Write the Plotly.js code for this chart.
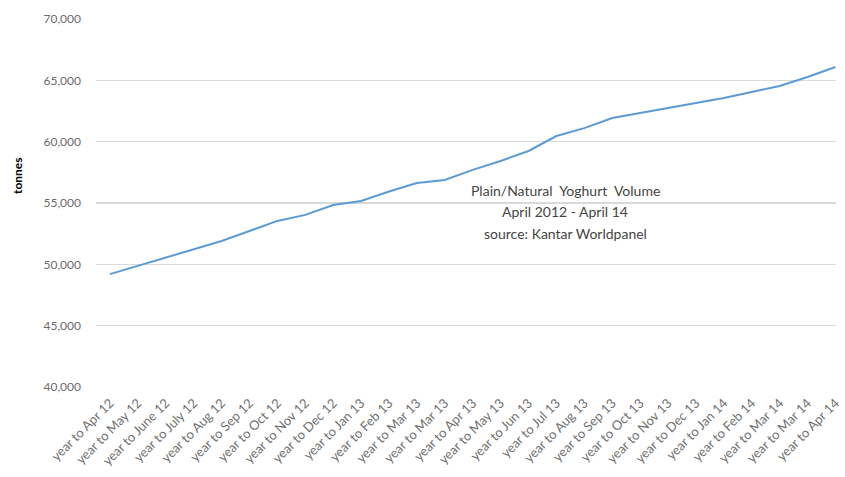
<!DOCTYPE html>
<html>
<head>
<meta charset="utf-8">
<script src="https://cdn.plot.ly/plotly-3.0.1.min.js"></script>
<style>html,body{margin:0;padding:0;background:#fff;}#chart{width:845px;height:477px;}</style>
</head>
<body>
<div id="chart"></div>
<script>
// Category labels (note: the source repeats "Mar 13" and "Mar 14")
const categories = [
  "year to Apr 12","year to May 12","year to June 12","year to July 12","year to Aug 12",
  "year to Sep 12","year to Oct 12","year to Nov 12","year to Dec 12","year to Jan 13",
  "year to Feb 13","year to Mar 13","year to Mar 13","year to Apr 13","year to May 13",
  "year to Jun 13","year to Jul 13","year to Aug 13","year to Sep 13","year to Oct 13",
  "year to Nov 13","year to Dec 13","year to Jan 14","year to Feb 14","year to Mar 14",
  "year to Mar 14","year to Apr 14"
];
// Plain/Natural yoghurt volume, tonnes
const volume = [
  49200, 49870, 50520, 51170, 51900,
  52720, 53540, 54030, 54840, 55170,
  55940, 56630, 56880, 57700, 58430,
  59240, 60460, 61100, 61930, 62340,
  62750, 63150, 63560, 64050, 64540,
  65270, 66090
];
const yTicks = [40000, 45000, 50000, 55000, 60000, 65000, 70000];
const noteLines = ["Plain/Natural  Yoghurt  Volume", "April 2012 - April 14", "source: Kantar Worldpanel"];
const yTitle = "tonnes";

const idx = categories.map((_, i) => i);
const font = "Lato, 'Open Sans', sans-serif";

// plot area in pixels: left 96, width 740, top 19, bottom 387
const L = 96, W = 740, T = 19, H = 368;
const px = x => (x - L) / W;
const py = y => (T + H - y) / H;
const noteY = [190, 211, 233];

const annotations = noteLines.map((t, i) => ({
  xref: "paper", yref: "paper", x: px(565), y: py(noteY[i]),
  xanchor: "center", yanchor: "middle",
  text: t, showarrow: false,
  font: {family: font, size: 14, color: "#454545"}
}));
annotations.push({
  xref: "paper", yref: "paper", x: px(18), y: py(176),
  xanchor: "center", yanchor: "middle", textangle: -90,
  text: "<b>" + yTitle + "</b>", showarrow: false,
  font: {family: font, size: 12, color: "#000"}
});

Plotly.newPlot("chart", [{
  x: idx,
  y: volume,
  type: "scatter",
  mode: "lines",
  line: {color: "#5b9bd5", width: 2},
  hoverinfo: "skip",
  cliponaxis: false
}], {
  width: 845, height: 477,
  margin: {l: L, r: 845 - L - W, t: T, b: 477 - T - H},
  paper_bgcolor: "#fff", plot_bgcolor: "#fff",
  showlegend: false,
  shapes: [],
  xaxis: {
    range: [-0.5, 26.02],
    tickmode: "array",
    tickvals: idx,
    ticktext: categories,
    tickangle: -45,
    ticklabeloverflow: "allow",
    tickfont: {family: font, size: 13, color: "#707070"},
    showgrid: false, zeroline: false, showline: false,
    ticks: "", ticklabelstandoff: 5
  },
  yaxis: {
    range: [40000, 70000],
    tickmode: "array",
    tickvals: yTicks,
    ticktext: yTicks.map(v => v.toLocaleString("en-US")),
    tickfont: {family: font, size: 12, color: "#6b6b6b"},
    showgrid: true, gridcolor: "#d9d9d9", gridwidth: 1.5,
    zeroline: false, showline: false, ticks: "",
    ticklabelstandoff: 14
  },
  annotations: annotations
}, {displayModeBar: false, staticPlot: true});
</script>
</body>
</html>
